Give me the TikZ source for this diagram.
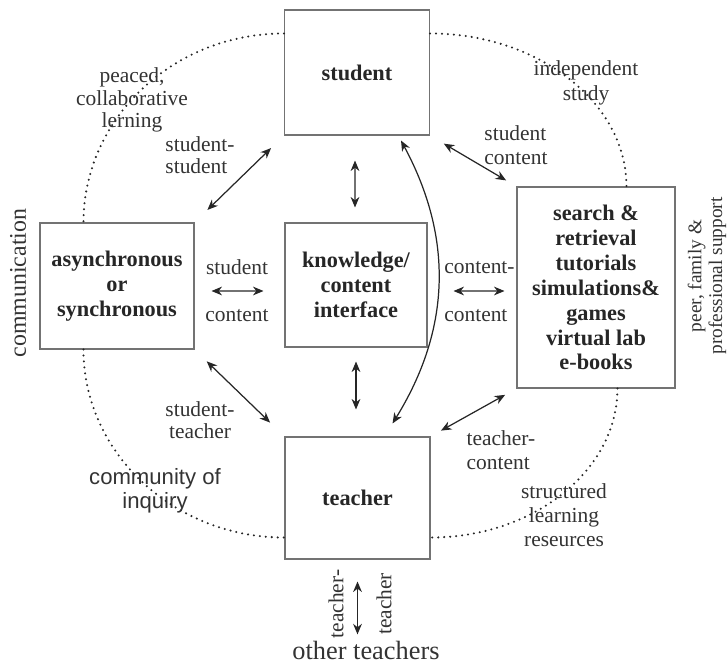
\documentclass[tikz,border=0pt]{standalone}
\usepackage{fontspec}
\setmainfont{Liberation Serif}
\newfontfamily\coifont{Liberation Sans}
\usepackage{tikz}
\usetikzlibrary{arrows,arrows.meta,positioning,calc}
\tikzstyle{box}=[draw=black!55,semithick,align=center,inner sep=0pt,
  font=\bfseries\fontsize{12.7}{14.2}\selectfont,text=black!85]
\tikzstyle{lbl}=[align=center,inner sep=0pt,
  font=\fontsize{12.2}{12.8}\selectfont,text=black!80]
\tikzstyle{arr}=[{Stealth[length=6pt,width=5pt]}-{Stealth[length=6pt,width=5pt]},line width=0.7pt,black!85]
\tikzstyle{ring}=[black!85,line width=1.3pt,line cap=round,dash pattern=on 0pt off 3.4pt]

\begin{document}
\begin{tikzpicture}[x=0.02cm,y=-0.02cm]
  \useasboundingbox (0,0) rectangle (728,663);
  % boxes
  \node[box,minimum width=2.9cm,minimum height=2.5cm] (student) at (357,72.5) {student};
  \node[box,minimum width=3.08cm,minimum height=2.52cm] (async) at (117,286) {asynchronous\\or\\synchronous};
  \node[box,minimum width=2.84cm,minimum height=2.48cm] (know) at (356,285) {knowledge/\\content\\interface};
  \node[box,minimum width=3.16cm,minimum height=4.02cm] (search) at (596,287.5)
    {search \&\\retrieval\\tutorials\\simulations\&\\games\\virtual lab\\e-books};
  \node[box,minimum width=2.9cm,minimum height=2.44cm] (teacher) at (357.5,498) {teacher};
  % dotted ring
  \draw[ring] ([yshift=-0.48cm]student.north west) .. controls +(-111,0) and +(0,-104) .. ([xshift=0.88cm]async.north west);
  \draw[ring] ([xshift=0.88cm]async.south west) .. controls +(0,103) and +(-111,0) .. ([yshift=0.44cm]teacher.south west);
  \draw[ring] ([yshift=-0.48cm]student.north east) .. controls +(108,0) and +(0,-84) .. ([xshift=2.2cm]search.north west);
  \draw[ring] ([xshift=2.02cm]search.south west) .. controls +(0,82) and +(103,0) .. ([yshift=0.44cm]teacher.south east);
  % labels
  \node[lbl] (peaced) at (132,100) {peaced,\\collaborative\\lerning};
  \node[lbl,align=left] (stst) at (200,155) {student-\\student};
  \node[lbl,font=\fontsize{12.2}{14}\selectfont] (indep) at (586,83) {independent\\study};
  \node[lbl,align=left,font=\fontsize{12.2}{14}\selectfont] (stcon) at (516,145) {student\\content};
  \node[lbl] (skup) at (237,267) {student};
  \node[lbl] (skdown) at (237,316) {content};
  \node[lbl,anchor=west] (ccup) at (444,268) {content-};
  \node[lbl,anchor=west] (ccdown) at (444,316) {content};
  \node[lbl,rotate=90,font=\fontsize{13.6}{14}\selectfont] (comm) at (18,283) {communication};
  \node[lbl,rotate=90,font=\fontsize{11}{11.8}\selectfont] (peer) at (707,276) {peer, family \&\\professional support};
  \node[lbl] (stte) at (200,420) {student-\\teacher};
  \node[lbl,font=\coifont\fontsize{12.6}{13.4}\selectfont] (coi) at (155,491) {community of\\inquiry};
  \node[lbl,align=left,font=\fontsize{12.2}{14}\selectfont] (tecon) at (501,450) {teacher-\\content};
  \node[lbl,font=\fontsize{12.2}{13.6}\selectfont] (slr) at (564,515) {structured\\learning\\reseurces};
  \node[lbl,rotate=90] (ttleft) at (336,604) {teacher-};
  \node[lbl,rotate=90] (ttright) at (384,604) {teacher};
  \node[lbl,font=\fontsize{15}{16}\selectfont] (others) at (366,650) {other teachers};
  % arrows
  \draw[arr,shorten <=0.36cm,shorten >=0.36cm] (async.north east) -- (student.south west);
  \draw[arr,shorten <=0.34cm,shorten >=0.4cm] (async.south east) -- (teacher.north west);
  \draw[arr,shorten <=0.32cm,shorten >=0.24cm] (student.south east) -- (search.north west);
  \draw[arr,shorten <=0.24cm,shorten >=0.26cm] (teacher.north east) -- (search.south west);
  \draw[arr,shorten <=0.5cm,shorten >=0.3cm] ([xshift=-0.04cm]student.south) -- ([xshift=-0.02cm]know.north);
  \draw[arr,shorten <=0.28cm,shorten >=0.54cm] (know.south) -- (know.south |- teacher.north);
  \draw[arr,shorten <=0.34cm,shorten >=0.42cm] ([yshift=-0.1cm]async.east) -- ([yshift=-0.12cm]know.west);
  \draw[arr,shorten <=0.52cm,shorten >=0.24cm] ([yshift=-0.12cm]know.east) -- ([yshift=-0.07cm]search.west);
  \draw[arr,bend left=30] ([xshift=-0.58cm,yshift=-0.1cm]student.south east) to ([xshift=-0.76cm,yshift=0.26cm]teacher.north east);
  \draw[arr,shorten <=0.44cm,shorten >=0.12cm] (teacher.south) -- (teacher.south |- others.north);
\end{tikzpicture}
\end{document}
